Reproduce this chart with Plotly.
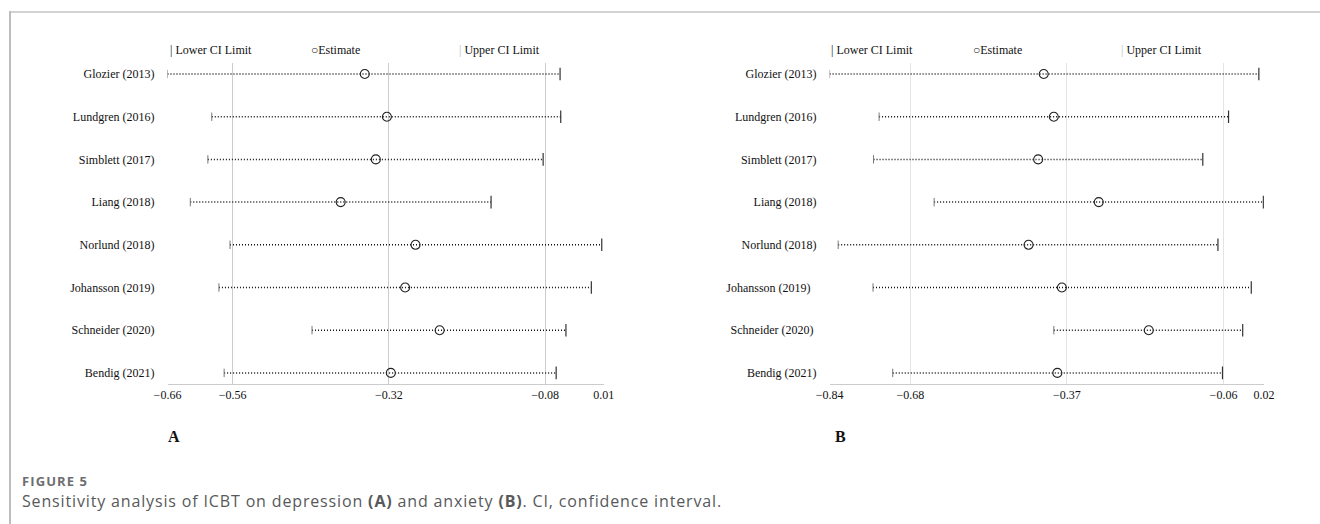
import plotly.graph_objects as go

W, H = 1320, 524

studies_a = ["Glozier (2013)", "Lundgren (2016)", "Simblett (2017)", "Liang (2018)",
             "Norlund (2018)", "Johansson (2019)", "Schneider (2020)", "Bendig (2021)"]
lower_a = [-0.660, -0.592, -0.598, -0.625, -0.564, -0.581, -0.438, -0.573]
est_a = [-0.357, -0.323, -0.340, -0.394, -0.279, -0.295, -0.242, -0.317]
upper_a = [-0.057, -0.056, -0.083, -0.163, 0.007, -0.009, -0.048, -0.063]
tickvals_a = [-0.66, -0.56, -0.32, -0.08, 0.01]
ticktext_a = ["\u22120.66", "\u22120.56", "\u22120.32", "\u22120.08", "0.01"]

studies_b = ["Glozier (2013)", "Lundgren (2016)", "Simblett (2017)", "Liang (2018)",
             "Norlund (2018)", "Johansson (2019)\u00a0\u00a0", "Schneider (2020)\u00a0", "Bendig (2021)"]
lower_b = [-0.840, -0.742, -0.753, -0.633, -0.823, -0.754, -0.396, -0.715]
est_b = [-0.416, -0.396, -0.427, -0.307, -0.446, -0.380, -0.208, -0.389]
upper_b = [0.010, -0.050, -0.101, 0.019, -0.071, -0.005, -0.022, -0.062]
tickvals_b = [-0.84, -0.68, -0.37, -0.06, 0.02]
ticktext_b = ["\u22120.84", "\u22120.68", "\u22120.37", "\u22120.06", "0.02"]

SERIF = "Liberation Serif, Times New Roman, serif"
SANS = "Open Sans, Noto Sans, sans-serif"

fig = go.Figure()


def add_panel(lo, es, up, xa, ya):
    n = len(lo)
    ys = list(range(n))
    lx, ly = [], []
    for i in range(n):
        lx += [lo[i], up[i], None]
        ly += [ys[i], ys[i], None]
    fig.add_trace(go.Scatter(x=lx, y=ly, mode="lines", xaxis=xa, yaxis=ya,
                             line=dict(color="#111111", width=1.5, dash="1px,2px"),
                             hoverinfo="skip", showlegend=False))
    fig.add_trace(go.Scatter(x=lo, y=ys, mode="markers", xaxis=xa, yaxis=ya,
                             marker=dict(symbol="line-ns", size=6,
                                         line=dict(color="#777777", width=1)),
                             showlegend=False, name="Lower CI Limit"))
    fig.add_trace(go.Scatter(x=up, y=ys, mode="markers", xaxis=xa, yaxis=ya,
                             marker=dict(symbol="line-ns", size=9,
                                         line=dict(color="#333333", width=1.2)),
                             showlegend=False, name="Upper CI Limit"))
    fig.add_trace(go.Scatter(x=es, y=ys, mode="markers", xaxis=xa, yaxis=ya,
                             marker=dict(symbol="circle-open", size=9, color="#222222",
                                         line=dict(color="#222222", width=1.1)),
                             showlegend=False, name="Estimate"))


add_panel(lower_a, est_a, upper_a, "x", "y")
add_panel(lower_b, est_b, upper_b, "x2", "y2")

ydom = [1 - 384 / H, 1 - 62.7 / H]
yrange = [7.26, -0.265]

axis_font = dict(family=SERIF, size=12, color="#111111")

fig.update_layout(
    width=W, height=H,
    margin=dict(l=0, r=0, t=0, b=0, pad=0, autoexpand=False),
    paper_bgcolor="white", plot_bgcolor="white",
    showlegend=False,
    xaxis=dict(domain=[167.5 / W, 603.7 / W], range=[-0.66, 0.01],
               tickvals=tickvals_a, ticktext=ticktext_a, tickfont=axis_font,
               showgrid=True, gridcolor="#cccccc", gridwidth=1, zeroline=False,
               showline=True, linecolor="#cccccc", linewidth=1, ticks="",
               automargin=False, anchor="y"),
    yaxis=dict(domain=ydom, range=yrange, tickvals=list(range(len(studies_a))),
               ticktext=studies_a, tickfont=axis_font, showgrid=False,
               zeroline=False, showline=False, ticks="", ticklabelstandoff=12,
               automargin=False, anchor="x"),
    xaxis2=dict(domain=[829.6 / W, 1263.9 / W], range=[-0.84, 0.02],
                tickvals=tickvals_b, ticktext=ticktext_b, tickfont=axis_font,
                showgrid=True, gridcolor="#e4e4e4", gridwidth=1, zeroline=False,
                showline=True, linecolor="#cccccc", linewidth=1, ticks="",
                automargin=False, anchor="y2"),
    yaxis2=dict(domain=ydom, range=yrange, tickvals=list(range(len(studies_b))),
                ticktext=studies_b, tickfont=axis_font, showgrid=False,
                zeroline=False, showline=False, ticks="", ticklabelstandoff=12,
                automargin=False, anchor="x2"),
)

ann = []


def legend_row(x0_est, x0_lo, x0_up):
    yl = 1 - 50 / H
    ann.append(dict(x=x0_lo / W, y=yl, xref="paper", yref="paper", xanchor="left",
                    yanchor="middle", showarrow=False,
                    text="|\u00a0Lower CI Limit", font=dict(family=SERIF, size=12, color="#111111")))
    ann.append(dict(x=x0_est / W, y=yl, xref="paper", yref="paper", xanchor="left",
                    yanchor="middle", showarrow=False,
                    text="\u25cbEstimate",
                    font=dict(family=SERIF, size=12, color="#111111")))
    ann.append(dict(x=x0_up / W, y=yl, xref="paper", yref="paper", xanchor="left",
                    yanchor="middle", showarrow=False,
                    text="<span style='color:#bbbbbb'>|</span>\u00a0Upper CI Limit",
                    font=dict(family=SERIF, size=12, color="#111111")))


legend_row(309, 168, 457)
legend_row(971, 829, 1119)

ann.append(dict(x=166 / W, y=1 - 436 / H, xref="paper", yref="paper", xanchor="left",
                yanchor="middle", showarrow=False, text="<b>A</b>",
                font=dict(family=SERIF, size=16, color="#111111")))
ann.append(dict(x=833 / W, y=1 - 436 / H, xref="paper", yref="paper", xanchor="left",
                yanchor="middle", showarrow=False, text="<b>B</b>",
                font=dict(family=SERIF, size=16, color="#111111")))

ann.append(dict(x=20 / W, y=1 - 481 / H, xref="paper", yref="paper", xanchor="left",
                yanchor="middle", showarrow=False,
                text="<span style='letter-spacing:1.1px'><b>FIGURE 5</b></span>",
                font=dict(family=SANS, size=13, color="#6d6e71")))
ann.append(dict(x=20 / W, y=1 - 501 / H, xref="paper", yref="paper", xanchor="left",
                yanchor="middle", showarrow=False,
                text="<span style='letter-spacing:0.85px'>Sensitivity analysis of ICBT on depression <b>(A)</b> and anxiety <b>(B)</b>. CI, confidence interval.</span>",
                font=dict(family=SANS, size=16, color="#58595b")))

fig.update_layout(annotations=ann)

fig.add_shape(type="line", xref="paper", yref="paper", x0=10 / W, x1=1.0,
              y0=1 - 12 / H, y1=1 - 12 / H, line=dict(color="#c4c4c4", width=1.5),
              layer="above")
fig.add_shape(type="line", xref="paper", yref="paper", x0=10 / W, x1=10 / W,
              y0=0, y1=1 - 11 / H, line=dict(color="#bdbdbd", width=2),
              layer="above")

fig.write_html("out.html", config={"displayModeBar": False},
               post_script="document.body.style.margin='0';document.body.style.padding='0';document.body.style.overflow='hidden';")
